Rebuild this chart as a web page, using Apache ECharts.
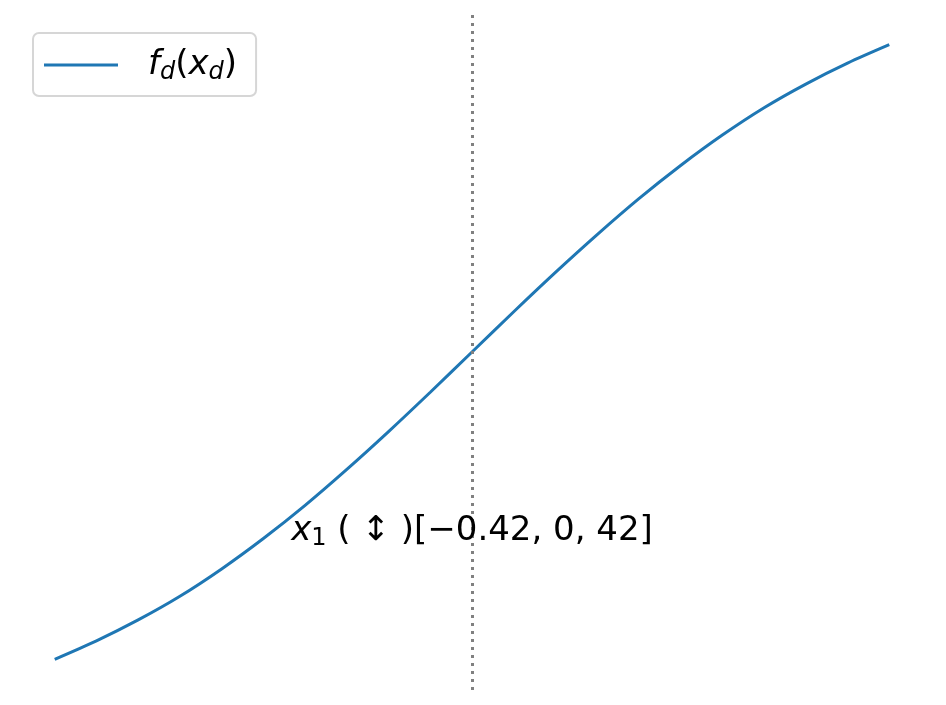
<!DOCTYPE html>
<html>
<head>
<meta charset="utf-8">
<script src="https://cdn.jsdelivr.net/npm/echarts@6/dist/echarts.min.js"></script>
<style>
html,body{margin:0;padding:0;background:#fff;}
#chart{width:946px;height:705px;}
</style>
</head>
<body>
<div id="chart"></div>
<script>
// x positions of the plotted feature (normalised)
const xValues = [-1.0,-0.9,-0.8,-0.7,-0.6,-0.5,-0.4,-0.3,-0.2,-0.1,0.0,0.1,0.2,0.3,0.4,0.5,0.6,0.7,0.8,0.9,1.0];
// f_d(x_d) values
const fValues = [-1.000,-0.940,-0.872,-0.795,-0.706,-0.607,-0.499,-0.382,-0.259,-0.131,0.000,0.131,0.259,0.382,0.499,0.607,0.706,0.795,0.872,0.940,1.000];
// reference (dotted) line position
const refX = 0;
// annotation anchor
const annotX = 0;
const annotY = -0.583;
const annotText = '{i|x}{sub|1}{n| ( ↕ )[−0.42, 0, 42]}';
const seriesName = 'f_d(x_d)';

const FONT = 'DejaVu Sans';
const FS = 34;
const SUB = 24;
const chart = echarts.init(document.getElementById('chart'), null, {renderer: 'canvas'});
const data = xValues.map((x, i) => [x, fValues[i]]);

const richStyles = {
  gap: {width: 25},
  i: {fontFamily: FONT, fontSize: FS, fontStyle: 'italic', color: '#000', lineHeight: 36, verticalAlign: 'middle'},
  n: {fontFamily: FONT, fontSize: FS, color: '#000', lineHeight: 36, verticalAlign: 'middle'},
  sub: {fontFamily: FONT, fontSize: SUB, color: '#000', lineHeight: 36, padding: [16, 0, 0, 0], verticalAlign: 'middle'},
  subi: {fontFamily: FONT, fontSize: SUB, fontStyle: 'italic', color: '#000', lineHeight: 36, padding: [16, 0, 0, 0], verticalAlign: 'middle'}
};

chart.setOption({
  animation: false,
  backgroundColor: '#ffffff',
  grid: {left: 13, right: 15, top: 14, bottom: 15},
  xAxis: {type: 'value', min: -1.1, max: 1.1, show: false},
  yAxis: {type: 'value', min: -1.1, max: 1.1, show: false},
  legend: {
    show: true,
    left: 33, top: 33,
    orient: 'vertical',
    padding: [12, 19, 11, 11],
    borderColor: '#d6d6d6',
    borderWidth: 2,
    borderRadius: 6,
    backgroundColor: 'rgba(255,255,255,0.8)',
    icon: 'rect',
    itemWidth: 74,
    itemHeight: 3,
    data: [seriesName],
    formatter: function () {
      return '{gap|}{i|f}{subi|d}{n|(}{i|x}{subi|d}{n|)}';
    },
    textStyle: {
      fontFamily: FONT,
      fontSize: FS,
      color: '#000',
      rich: richStyles
    }
  },
  series: [{
    name: seriesName,
    type: 'line',
    data: data,
    smooth: 0.3,
    showSymbol: false,
    symbol: 'none',
    lineStyle: {color: '#1f77b4', width: 3},
    itemStyle: {color: '#1f77b4'},
    markLine: {
      silent: true,
      symbol: ['none', 'none'],
      label: {show: false},
      lineStyle: {color: '#808080', width: 3, type: [3, 5]},
      data: [{xAxis: refX}]
    },
    markPoint: {
      silent: true,
      symbol: 'circle',
      symbolSize: 0,
      data: [{coord: [annotX, annotY]}],
      label: {
        show: true,
        position: 'inside',
        formatter: annotText,
        rich: richStyles
      }
    }
  }]
});
</script>
</body>
</html>
